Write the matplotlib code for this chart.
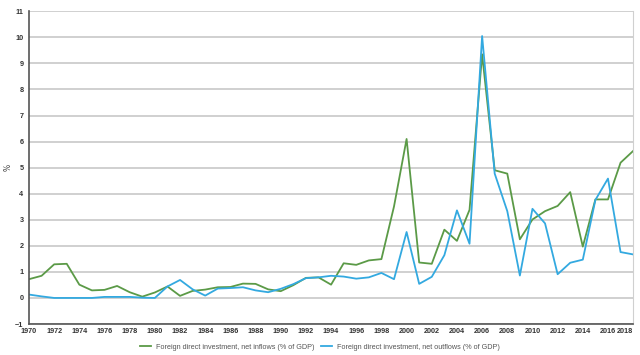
import matplotlib.pyplot as plt

years = list(range(1970, 2019))

# FDI net inflows (% of GDP)
inflows = [0.72, 0.85, 1.29, 1.31, 0.51, 0.29, 0.31, 0.46, 0.22, 0.05,
           0.21, 0.44, 0.08, 0.27, 0.32, 0.41, 0.42, 0.55, 0.54, 0.33,
           0.26, 0.49, 0.77, 0.79, 0.51, 1.33, 1.27, 1.44, 1.49, 3.51,
           6.10, 1.36, 1.31, 2.62, 2.19, 3.38, 9.35, 4.90, 4.77, 2.25,
           3.01, 3.33, 3.53, 4.06, 1.97, 3.78, 3.78, 5.19, 5.64]

# FDI net outflows (% of GDP)
outflows = [0.13, 0.06, 0.0, 0.0, 0.0, 0.0, 0.04, 0.04, 0.04, 0.01,
            0.0, 0.44, 0.69, 0.33, 0.09, 0.36, 0.38, 0.41, 0.29, 0.22,
            0.35, 0.53, 0.76, 0.79, 0.85, 0.82, 0.74, 0.79, 0.96, 0.72,
            2.53, 0.54, 0.81, 1.64, 3.36, 2.08, 10.05, 4.77, 3.33, 0.86,
            3.42, 2.86, 0.91, 1.35, 1.47, 3.76, 4.58, 1.76, 1.67]

green = "#5b9a47"
blue = "#33a9e0"

fig = plt.figure(figsize=(6.4, 3.55), dpi=100)
ax = fig.add_axes([0.0453, 0.0873, 0.944, 0.881])

ax.plot(years, inflows, color=green, lw=1.3,
        label="Foreign direct investment, net inflows (% of GDP)")
ax.plot(years, outflows, color=blue, lw=1.3,
        label="Foreign direct investment, net outflows (% of GDP)")

ax.set_xlim(1970, 2018)
ax.set_ylim(-1, 11)
ax.set_yticks(range(-1, 12))
ax.set_xticks(range(1970, 2019, 2))
ax.grid(axis="y", color="#c8c8c8", lw=1.2)
ax.set_axisbelow(True)

for lbl in ax.get_xticklabels() + ax.get_yticklabels():
    lbl.set_fontsize(5.2)
    lbl.set_fontfamily("Liberation Sans")
    lbl.set_fontweight("bold")
    lbl.set_color("#333333")
ax.get_xticklabels()[-1].set_horizontalalignment("right")
ax.tick_params(axis="x", length=0, pad=3)
ax.tick_params(axis="y", length=0, pad=4)

ax.spines["top"].set_visible(False)
ax.spines["right"].set_color("#d0d0d0")
ax.spines["left"].set_color("#555555")
ax.spines["bottom"].set_color("#555555")
ax.spines["left"].set_linewidth(1.2)
ax.spines["bottom"].set_linewidth(1.2)

fig.text(8 / 640, 1 - 167 / 355, "%", fontsize=5.5, color="#444444",
         ha="center", va="center", rotation=90)

fig.legend(loc="center", bbox_to_anchor=(0.5, 0.022), ncol=2, frameon=False,
           prop={"family": "Liberation Sans", "size": 5.2}, handlelength=1.5,
           columnspacing=0.8, labelcolor="#555555")

plt.savefig("out.png", dpi=100)
